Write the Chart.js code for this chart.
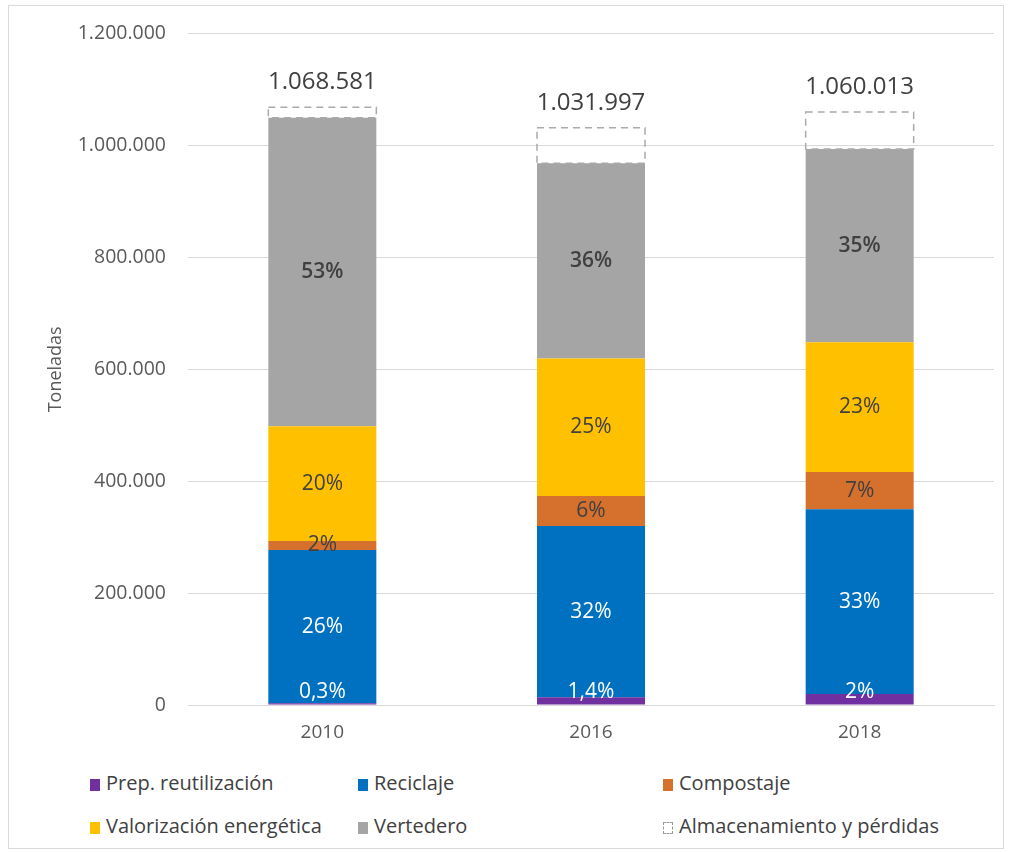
<!DOCTYPE html>
<html>
<head>
<meta charset="utf-8">
<script src="https://cdn.jsdelivr.net/npm/chart.js@4.4.0/dist/chart.umd.min.js"></script>
<style>
    body { margin: 0; background: #fff; font-family: 'Open Sans', sans-serif; }
    #marco { position: absolute; left: 8px; top: 5px; width: 996px; height: 844px; border: 1px solid #d9d9d9; box-sizing: border-box; }
    #grafico { position: absolute; left: 0; top: 0; }
    .item { position: absolute; font-size: 20px; color: #404040; white-space: nowrap; line-height: 24px; }
    .caja { display: inline-block; width: 10px; height: 12px; margin-right: 6px; vertical-align: -1px; box-sizing: border-box; }
</style>
</head>
<body>
<div id="marco"></div>
<canvas id="grafico" width="1009" height="755"></canvas>
<div id="leyenda"></div>

<script>
// DATOS
var anios = ["2010", "2016", "2018"];
var totales = [1068581, 1031997, 1060013];

var prepReutilizacion = [3200, 14000, 19500];
var reciclaje = [274000, 306000, 330500];
var compostaje = [16000, 53500, 66500];
var valorizacion = [205000, 246000, 232000];
var vertedero = [551500, 349000, 345500];
var almacenamiento = [18900, 63500, 66000];

// etiquetas de porcentaje tal como aparecen en cada tramo
var pctPrep = ["0,3%", "1,4%", "2%"];
var pctReciclaje = ["26%", "32%", "33%"];
var pctCompostaje = ["2%", "6%", "7%"];
var pctValorizacion = ["20%", "25%", "23%"];
var pctVertedero = ["53%", "36%", "35%"];

var nombres = ["Prep. reutilización", "Reciclaje", "Compostaje", "Valorización energética", "Vertedero", "Almacenamiento y pérdidas"];
var colores = ["#7030A0", "#0070C0", "#D5702D", "#FFC000", "#A5A5A5", "rgba(0,0,0,0)"];

function puntos(n) {
    return String(n).replace(/\B(?=(\d{3})+(?!\d))/g, '.');
}

// etiquetas dentro de las barras y caja discontinua
const etiquetasPlugin = {
    id: 'etiquetas',
    afterDatasetsDraw(chart) {
        const ctx = chart.ctx;
        ctx.save();
        chart.data.datasets.forEach((ds, i) => {
            const meta = chart.getDatasetMeta(i);
            meta.data.forEach((bar, j) => {
                const p = bar.getProps(['x', 'y', 'base', 'width'], true);
                if (ds.caja) {
                    ctx.strokeStyle = '#aaaaaa';
                    ctx.lineWidth = 1.5;
                    ctx.setLineDash([7, 5]);
                    ctx.strokeRect(p.x - p.width / 2, p.y, p.width, p.base - p.y);
                    ctx.setLineDash([]);
                    ctx.fillStyle = '#404040';
                    ctx.font = '24px "Open Sans"';
                    ctx.textAlign = 'center';
                    ctx.textBaseline = 'middle';
                    ctx.fillText(puntos(totales[j]), p.x, p.y - 25);
                } else if (ds.etiquetas) {
                    let y = (p.y + p.base) / 2;
                    if (ds.abajo) y = p.base - 12;
                    ctx.fillStyle = ds.colorTexto;
                    ctx.font = (ds.negrita ? '600 ' : '') + '21px "Open Sans"';
                    ctx.textAlign = 'center';
                    ctx.textBaseline = 'middle';
                    ctx.fillText(ds.etiquetas[j], p.x, y);
                }
            });
        });
        ctx.restore();
    }
};

function chartCreate() {
    const data = {
        labels: anios,
        datasets: [
            { label: nombres[0], data: prepReutilizacion, backgroundColor: colores[0], etiquetas: pctPrep, colorTexto: '#ffffff', abajo: true },
            { label: nombres[1], data: reciclaje, backgroundColor: colores[1], etiquetas: pctReciclaje, colorTexto: '#ffffff' },
            { label: nombres[2], data: compostaje, backgroundColor: colores[2], etiquetas: pctCompostaje, colorTexto: '#404040' },
            { label: nombres[3], data: valorizacion, backgroundColor: colores[3], etiquetas: pctValorizacion, colorTexto: '#404040' },
            { label: nombres[4], data: vertedero, backgroundColor: colores[4], etiquetas: pctVertedero, colorTexto: '#404040', negrita: true },
            { label: nombres[5], data: almacenamiento, backgroundColor: colores[5], borderWidth: 0, caja: true }
        ]
    };
    const config = {
        type: 'bar',
        data: data,
        options: {
            responsive: false,
            animation: false,
            datasets: { bar: { categoryPercentage: 1, barPercentage: 0.402 } },
            layout: { padding: { left: 41, right: 15, top: 33, bottom: 0 } },
            plugins: { legend: { display: false }, tooltip: { enabled: false } },
            scales: {
                x: {
                    stacked: true,
                    grid: { display: false, drawTicks: false },
                    border: { color: '#d9d9d9' },
                    ticks: { color: '#595959', font: { family: 'Open Sans', size: 19 }, padding: 16 },
                    afterFit: function(a) { a.height = 50; }
                },
                y: {
                    stacked: true,
                    min: 0,
                    max: 1200000,
                    ticks: {
                        stepSize: 200000,
                        color: '#595959',
                        font: { family: 'Open Sans', size: 19.5 },
                        padding: 22,
                        callback: function(v) { return puntos(v); }
                    },
                    grid: { color: '#d9d9d9', drawTicks: false },
                    border: { display: false },
                    title: { display: true, text: 'Toneladas', color: '#595959', font: { family: 'Open Sans', size: 18 } },
                    afterFit: function(a) { a.width = 147; }
                }
            }
        },
        plugins: [etiquetasPlugin]
    };
    new Chart(document.getElementById('grafico'), config);
}

// leyenda en columnas
function leyendaCreate() {
    var pos = [[90, 771], [358, 771], [663, 771], [90, 814], [358, 814], [663, 814]];
    var cont = document.getElementById('leyenda');
    nombres.forEach((n, i) => {
        var d = document.createElement('div');
        d.className = 'item';
        d.style.left = pos[i][0] + 'px';
        d.style.top = pos[i][1] + 'px';
        var c = document.createElement('span');
        c.className = 'caja';
        if (i == 5) {
            c.style.border = '1px dashed #999';
        } else {
            c.style.background = colores[i];
        }
        d.appendChild(c);
        d.appendChild(document.createTextNode(n));
        cont.appendChild(d);
    });
}

chartCreate();
leyendaCreate();
</script>
</body>
</html>
